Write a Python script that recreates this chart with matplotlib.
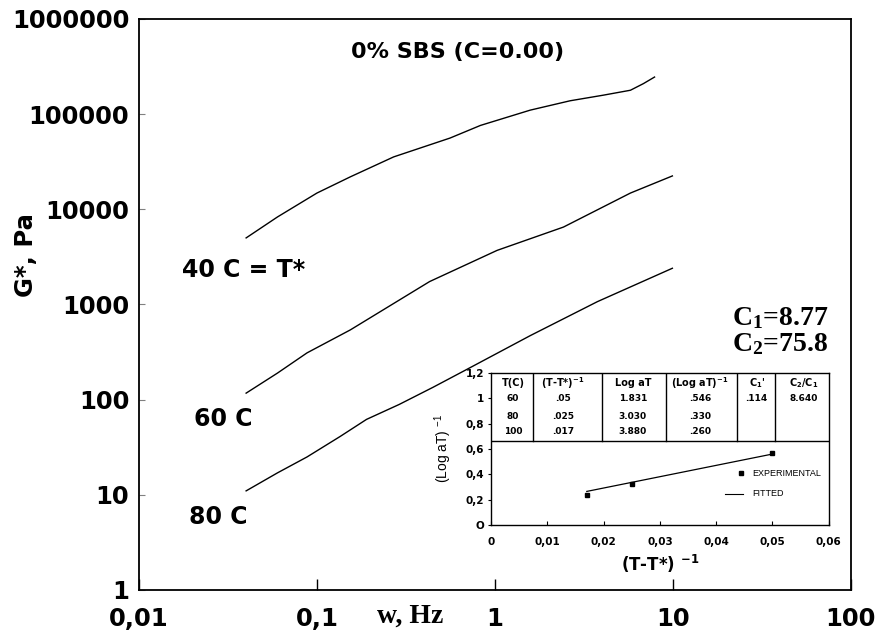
import numpy as np
import matplotlib
matplotlib.use("Agg")
import matplotlib.pyplot as plt

# master curves G* vs frequency
w_40 = [0.04, 0.06, 0.10, 0.154, 0.27, 0.56, 0.83, 1.58, 2.65, 4.07, 5.78, 6.84, 7.9]
g_40 = [5000, 8300, 14800, 21900, 35500, 56000, 76000, 110000, 138000, 158000, 178000, 209000, 245000]

w_60 = [0.04, 0.06, 0.088, 0.154, 0.43, 1.03, 2.43, 5.78, 9.95]
g_60 = [117, 190, 310, 540, 1740, 3700, 6500, 14800, 22400]

w_80 = [0.04, 0.06, 0.088, 0.135, 0.19, 0.29, 0.45, 0.70, 1.58, 3.77, 9.95]
g_80 = [11, 17, 25, 41, 62, 89, 135, 209, 470, 1070, 2400]

# inset: WLF fit
inv_dt = [0.017, 0.025, 0.05]
inv_log_at = [0.235, 0.32, 0.57]
fit_x = [0.017, 0.05]
fit_y = [0.265, 0.56]

tbl_header = ["T(C)", "(T-T*)$^{-1}$", "Log aT", "(Log aT)$^{-1}$", "C$_1$'", "C$_2$/C$_1$"]
tbl_rows = [["60", ".05", "1.831", ".546", ".114", "8.640"],
            ["80", ".025", "3.030", ".330", "", ""],
            ["100", ".017", "3.880", ".260", "", ""]]

plt.rcParams['font.family'] = ['DejaVu Sans']
plt.rcParams['font.weight'] = 'bold'
plt.rcParams['mathtext.default'] = 'regular'

fig = plt.figure(figsize=(8.77, 6.3), dpi=100)
ax = fig.add_axes([0.1585, 0.0635, 0.8115, 0.9065])

ax.plot(w_40, g_40, color='black', lw=1.0)
ax.plot(w_60, g_60, color='black', lw=1.0)
ax.plot(w_80, g_80, color='black', lw=1.0)

ax.set_xscale('log')
ax.set_yscale('log')
ax.set_xlim(0.01, 100)
ax.set_ylim(1, 1e6)
ax.minorticks_off()
ax.set_xticks([0.01, 0.1, 1, 10, 100])
ax.set_xticklabels(['0,01', '0,1', '1', '10', '100'])
ax.set_yticks([1, 10, 100, 1000, 10000, 100000, 1000000])
ax.set_yticklabels(['1', '10', '100', '1000', '10000', '100000', '1000000'])
ax.tick_params(axis='x', direction='in', length=8, width=1, pad=12, labelsize=17.5)
ax.tick_params(axis='y', direction='in', length=4.5, width=0.8, color='gray', pad=7, labelsize=17.5)
for lab in ax.get_xticklabels() + ax.get_yticklabels():
    lab.set_fontweight('bold')
for s in ax.spines.values():
    s.set_linewidth(1.3)

fig.text(0.03, 0.595, 'G*, Pa', rotation=90, fontsize=17.5, fontweight='bold',
         ha='center', va='center')
fig.text(0.468, 0.022, 'w, Hz', fontsize=20, fontweight='bold',
         family='Liberation Serif', ha='center', va='center')

ax.text(0.447, 0.942, '0% SBS (C=0.00)', transform=ax.transAxes, ha='center',
        va='center', fontsize=16, fontweight='bold')
ax.text(0.0175, 2300, '40 C = T*', fontsize=17, fontweight='bold', va='center')
ax.text(0.0205, 63, '60 C', fontsize=17, fontweight='bold', va='center')
ax.text(0.019, 5.8, '80 C', fontsize=17, fontweight='bold', va='center')
ax.text(0.968, 0.476, 'C$_1$=8.77', transform=ax.transAxes, ha='right',
        va='center', fontsize=20, fontweight='bold', family='Liberation Serif')
ax.text(0.968, 0.431, 'C$_2$=75.8', transform=ax.transAxes, ha='right',
        va='center', fontsize=20, fontweight='bold', family='Liberation Serif')

# inset
ins = fig.add_axes([0.560, 0.1667, 0.385, 0.2413])
ins.plot(inv_dt, inv_log_at, 's', color='black', ms=2.5)
ins.plot(fit_x, fit_y, color='black', lw=0.9)
ins.set_xlim(0, 0.06)
ins.set_ylim(0, 1.2)
ins.set_xticks([0, 0.01, 0.02, 0.03, 0.04, 0.05, 0.06])
ins.set_xticklabels(['0', '0,01', '0,02', '0,03', '0,04', '0,05', '0,06'])
ins.set_yticks([0, 0.2, 0.4, 0.6, 0.8, 1, 1.2])
ins.set_yticklabels(['O', '0,2', '0,4', '0,6', '0,8', '1', '1,2'])
ins.tick_params(axis='x', direction='in', length=3, pad=9, labelsize=7.5)
ins.tick_params(axis='y', direction='out', length=2, pad=3, labelsize=7.5)
for lab in ins.get_xticklabels() + ins.get_yticklabels():
    lab.set_fontweight('bold')
for s in ins.spines.values():
    s.set_linewidth(1.0)
ins.set_xlabel('(T-T*) $^{-1}$', fontsize=12, fontweight='bold', labelpad=4)
ins.set_ylabel('(Log aT) $^{-1}$', fontsize=10, fontweight='normal',
               family='Liberation Sans', labelpad=8)

# table drawn on top of inset
ins.axhline(0.66, color='black', lw=1.0)
for xd in [0.0075, 0.0197, 0.0311, 0.0437, 0.0504]:
    ins.plot([xd, xd], [0.66, 1.2], color='black', lw=1.0)
col_x = [0.0039, 0.0128, 0.0252, 0.0371, 0.0472, 0.0556]
row_y = [0.995, 0.853, 0.734]
for cx, h in zip(col_x, tbl_header):
    ins.text(cx, 1.12, h, ha='center', va='center', fontsize=7, fontweight='bold')
for ry, row in zip(row_y, tbl_rows):
    for cx, v in zip(col_x, row):
        ins.text(cx, ry, v, ha='center', va='center', fontsize=6.5, fontweight='bold')

# legend
ins.plot([0.0444], [0.41], 's', color='black', ms=2.5)
ins.text(0.0464, 0.41, 'EXPERIMENTAL', fontsize=6.5, fontweight='normal',
         family='Liberation Sans', va='center')
ins.plot([0.0415, 0.0448], [0.245, 0.245], color='black', lw=0.8)
ins.text(0.0464, 0.245, 'FITTED', fontsize=6.5, fontweight='normal',
         family='Liberation Sans', va='center')

fig.savefig('out.png', dpi=100)
